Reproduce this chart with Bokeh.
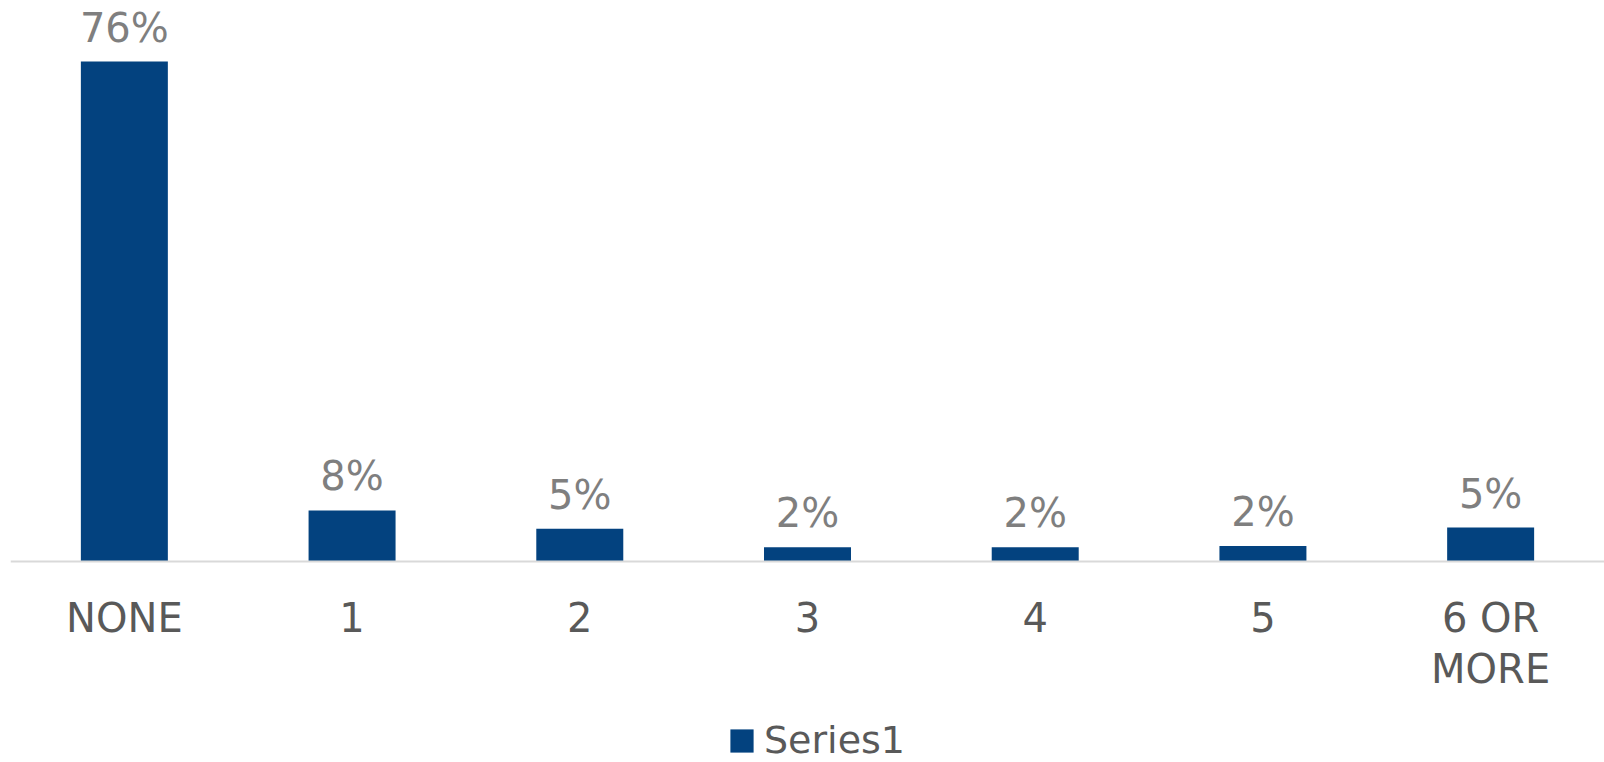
from bokeh.plotting import figure
from bokeh.models import ColumnDataSource, FactorRange, LabelSet
from bokeh.embed import file_html
from bokeh.resources import INLINE
from bokeh.core.properties import value

categories = ["NONE", "1", "2", "3", "4", "5", "6 OR\nMORE"]
values = [76, 7.7, 4.9, 2.1, 2.1, 2.3, 5.1]
labels = [f"{round(v)}%" for v in values]
series_name = "Series1"

FONT = "DejaVu Sans"
BAR = "#03427f"

src = ColumnDataSource(dict(cat=categories, val=values, lab=labels))

p = figure(
    width=1604, height=762,
    x_range=FactorRange(*categories, range_padding=0),
    y_range=(-30.65, 85.3),
    output_backend="svg", toolbar_location=None,
    min_border_left=10, min_border_right=0, min_border_top=0, min_border_bottom=0,
    outline_line_color=None,
)
p.x_range.factor_padding = 0
p.vbar(x="cat", top="val", bottom=0, width=0.382, source=src,
       fill_color=BAR, line_color=None, legend_label=series_name)
p.add_layout(LabelSet(x="cat", y="val", text="lab", source=src, text_align="center",
                      text_baseline="alphabetic", y_offset=20, text_color="#7f7f7f",
                      text_font=value(FONT), text_font_size="40px"))

p.yaxis.visible = False
p.grid.visible = False
xa = p.xaxis[0]
xa.fixed_location = 0
xa.axis_line_color = "#d9d9d9"
xa.axis_line_width = 2
xa.major_tick_line_color = None
xa.minor_tick_line_color = None
xa.major_label_standoff = 28
xa.major_label_text_font = FONT
xa.major_label_text_font_size = "40px"
xa.major_label_text_color = "#595959"
xa.major_label_text_line_height = 1.1

lg = p.legend[0]
lg.location = (717, 0)
lg.orientation = "horizontal"
lg.border_line_color = None
lg.background_fill_alpha = 0
lg.padding = 0
lg.margin = 0
lg.glyph_width = 29
lg.glyph_height = 29
lg.label_standoff = 8
lg.label_text_font = FONT
lg.label_text_font_size = "38px"
lg.label_text_color = "#595959"

open("out.html", "w").write(file_html(p, INLINE))
